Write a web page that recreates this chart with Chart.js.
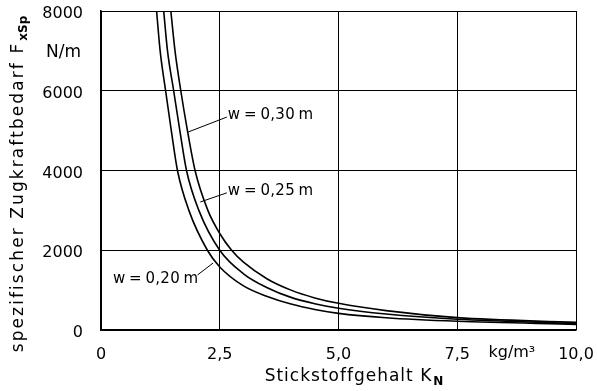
<!DOCTYPE html>
<html>
<head>
<meta charset="utf-8">
<script src="https://cdn.jsdelivr.net/npm/chart.js@4/dist/chart.umd.min.js"></script>
<style>
html,body{margin:0;padding:0;background:#fff;}
#wrap{width:597px;height:391px;position:relative;}
</style>
</head>
<body>
<div id="wrap"><canvas id="c" width="597" height="391"></canvas></div>
<script>
// ---- data ----
const seriesNames = ["w = 0,20 m", "w = 0,25 m", "w = 0,30 m"];
const k020 = [1.17, 1.245, 1.36, 1.48, 1.61, 1.85, 2.24, 2.5, 3.0, 3.5, 4.0, 4.5, 5.0, 6.0, 7.5, 10];
const f020 = [8000, 7000, 6000, 5000, 4000, 3000, 2000, 1580, 1105, 840, 650, 515, 418, 307, 219, 142];
const k025 = [1.32, 1.40, 1.53, 1.66, 1.80, 2.06, 2.5, 3.0, 3.5, 4.0, 4.5, 5.0, 6.0, 7.5, 10];
const f025 = [8000, 7000, 6000, 5000, 4000, 3000, 2000, 1410, 1060, 818, 660, 545, 400, 270, 165];
const k030 = [1.47, 1.558, 1.68, 1.82, 1.98, 2.25, 2.5, 2.75, 3.0, 3.5, 4.0, 4.5, 5.0, 6.0, 7.5, 10];
const f030 = [8000, 7000, 6000, 5000, 4000, 3000, 2420, 2000, 1700, 1280, 1000, 805, 669, 485, 310, 190];
const xTickValues = [0, 2.5, 5, 7.5, 10];
const xTickLabels = ["0", "2,5", "5,0", "7,5", "10,0"];
const yTickValues = [0, 2000, 4000, 6000, 8000];
const yTickLabels = ["0", "2000", "4000", "6000", "8000"];
const xUnit = "kg/m³";
const yUnit = "N/m";
const xTitle = "Stickstoffgehalt K";
const xTitleSub = "N";
const yTitle = "spezifischer Zugkraftbedarf F";
const yTitleSub = "xSp";
// label anchors (data coords): text position and leader end on curve
const labelTextX = [2.67, 2.67, 0.25];
const labelTextY = [5390, 3490, 1280];
const leaderEndX = [1.835, 2.09, 2.36];
const leaderEndY = [4965, 3210, 1680];

const FONT = '"DejaVu Sans", sans-serif';

function pts(ks, fs){ return ks.map((k,i)=>({x:k,y:fs[i]})); }

const annot = {
  id: 'annot',
  afterDraw(chart){
    const ctx = chart.ctx, xs = chart.scales.x, ys = chart.scales.y;
    ctx.save();
    ctx.fillStyle = '#000';
    ctx.strokeStyle = '#000';
    ctx.textBaseline = 'middle';
    // units
    ctx.font = '17px ' + FONT;
    ctx.textAlign = 'right';
    ctx.fillText(yUnit, 81, ys.getPixelForValue(6950));
    ctx.font = '16px ' + FONT;
    ctx.textAlign = 'center';
    ctx.fillText(xUnit, xs.getPixelForValue(8.65), 353);
    // x title
    ctx.textAlign = 'left';
    ctx.font = '17px ' + FONT;
    ctx.letterSpacing = '1px';
    const wT = ctx.measureText(xTitle).width;
    ctx.font = 'bold 12px ' + FONT;
    ctx.letterSpacing = '0px';
    const wS = ctx.measureText(xTitleSub).width;
    const x0 = 354 - (wT + wS + 1) / 2;
    ctx.font = '17px ' + FONT;
    ctx.letterSpacing = '1px';
    ctx.fillText(xTitle, x0, 377);
    ctx.font = 'bold 12px ' + FONT;
    ctx.letterSpacing = '0px';
    ctx.fillText(xTitleSub, x0 + wT + 1, 382);
    // y title
    ctx.save();
    ctx.translate(19, 184);
    ctx.rotate(-Math.PI/2);
    ctx.font = '17px ' + FONT;
    ctx.letterSpacing = '2.1px';
    const wY = ctx.measureText(yTitle).width;
    ctx.font = 'bold 12px ' + FONT;
    ctx.letterSpacing = '0px';
    const wYS = ctx.measureText(yTitleSub).width;
    const y0 = -(wY + wYS + 1) / 2;
    ctx.font = '17px ' + FONT;
    ctx.letterSpacing = '2.1px';
    ctx.textAlign = 'left';
    ctx.fillText(yTitle, y0, 0);
    ctx.font = 'bold 12px ' + FONT;
    ctx.letterSpacing = '0px';
    ctx.fillText(yTitleSub, y0 + wY + 1, 5);
    ctx.restore();
    // curve labels with leaders
    ctx.font = '15px ' + FONT;
    ctx.letterSpacing = '0.3px';
    ctx.wordSpacing = '-1.5px';
    ctx.lineWidth = 1;
    const names = [seriesNames[2], seriesNames[1], seriesNames[0]];
    for (let i = 0; i < 3; i++){
      const tx = xs.getPixelForValue(labelTextX[i]);
      const ty = ys.getPixelForValue(labelTextY[i]);
      const tw = ctx.measureText(names[i]).width;
      const lx = xs.getPixelForValue(leaderEndX[i]);
      const ly = ys.getPixelForValue(leaderEndY[i]);
      ctx.textAlign = 'left';
      ctx.fillText(names[i], tx, ty);
      ctx.beginPath();
      if (i < 2){ ctx.moveTo(tx - 1, ty + 2); }
      else { ctx.moveTo(tx + tw - 1, ty - 4); }
      ctx.lineTo(lx, ly);
      ctx.stroke();
    }
    ctx.restore();
  }
};

const ds = (data) => ({
  data, borderColor: '#000', borderWidth: 1.6, pointRadius: 0,
  fill: false, cubicInterpolationMode: 'monotone', tension: 0.4
});

new Chart(document.getElementById('c'), {
  type: 'line',
  data: { datasets: [ds(pts(k020, f020)), ds(pts(k025, f025)), ds(pts(k030, f030))] },
  options: {
    responsive: false, animation: false, devicePixelRatio: 1,
    layout: { padding: { left: 0, right: 21, top: 11, bottom: 0 } },
    plugins: { legend: { display: false }, tooltip: { enabled: false } },
    scales: {
      x: {
        type: 'linear', min: 0, max: 10,
        afterBuildTicks: s => { s.ticks = xTickValues.map(v => ({value: v})); },
        afterFit: s => { s.height = 61; s.paddingLeft = 0; s.paddingRight = 0; },
        ticks: { color: '#000', font: { family: FONT, size: 16 }, padding: 15, maxRotation: 0,
          callback: (v) => { const i = xTickValues.indexOf(v); return i >= 0 ? xTickLabels[i] : ''; } },
        grid: { color: '#000', lineWidth: 1, drawTicks: false },
        border: { color: '#000', width: 1.5 }
      },
      y: {
        min: 0, max: 8000,
        afterBuildTicks: s => { s.ticks = yTickValues.map(v => ({value: v})); },
        afterFit: s => { s.width = 101; s.paddingTop = 0; s.paddingBottom = 0; },
        ticks: { color: '#000', font: { family: FONT, size: 16 }, padding: 18, labelOffset: 3,
          callback: (v) => { const i = yTickValues.indexOf(v); return i >= 0 ? yTickLabels[i] : ''; } },
        grid: { color: '#000', lineWidth: 1, drawTicks: false },
        border: { color: '#000', width: 1.5 }
      }
    }
  },
  plugins: [annot]
});
</script>
</body>
</html>
